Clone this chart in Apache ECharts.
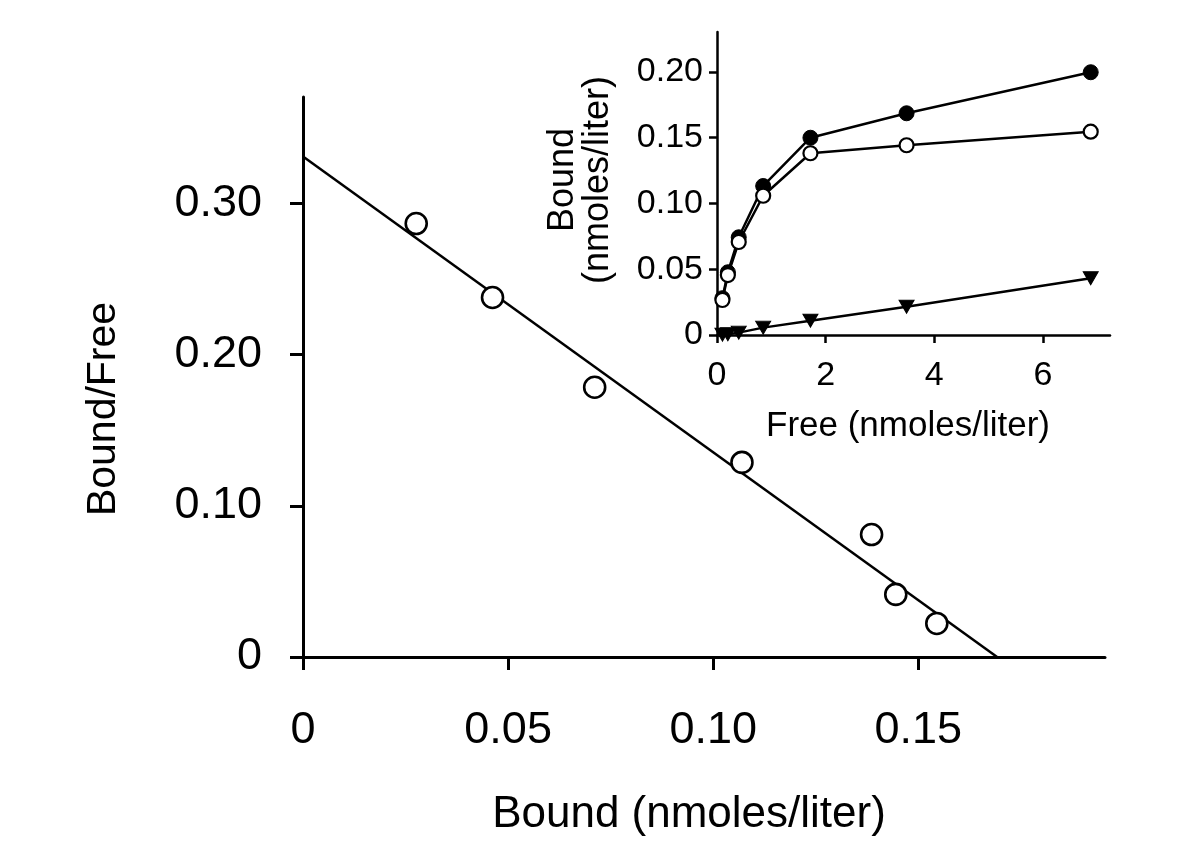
<!DOCTYPE html>
<html>
<head>
<meta charset="utf-8">
<script src="https://cdn.jsdelivr.net/npm/echarts@6/dist/echarts.min.js"></script>
<style>
html,body{margin:0;padding:0;background:#fff;}
#chart{width:1200px;height:852px;}
</style>
</head>
<body>
<div id="chart"></div>
<script>
// ---- Main Scatchard plot data ----
const mainBound = [0.0276, 0.0462, 0.0711, 0.107, 0.1386, 0.1445, 0.1545];
const mainBoundFree = [0.2867, 0.2378, 0.1784, 0.1287, 0.081, 0.0414, 0.0222];
const fitX = [0, 0.1692];
const fitY = [0.331, 0];
const mainXTicks = [0, 0.05, 0.10, 0.15];
const mainYTicks = [0, 0.10, 0.20, 0.30];

// ---- Inset saturation curves ----
const freeConc = [0.1, 0.2, 0.4, 0.85, 1.72, 3.49, 6.88];
const boundFilled = [0.028, 0.0477, 0.0743, 0.1133, 0.150, 0.1686, 0.1998];
const boundOpen = [0.0266, 0.0456, 0.0707, 0.1059, 0.1382, 0.1443, 0.1546];
const boundTriangle = [0.0003, 0.0006, 0.0018, 0.0056, 0.0109, 0.0215, 0.0431];
const insetXTicks = [0, 2, 4, 6];
const insetYTicks = [0, 0.05, 0.10, 0.15, 0.20];

const FONT = "'Liberation Sans', Arial, Helvetica, sans-serif";
const fmt = v => (v === 0 ? '0' : v.toFixed(2));
const zip = (a, b) => a.map((v, i) => [v, b[i]]);

const chart = echarts.init(document.getElementById('chart'), null, {renderer: 'canvas'});

const axisCommon = (lw) => ({
  axisLine: {show: true, onZero: false, lineStyle: {color: '#000', width: lw}},
  splitLine: {show: false}
});

const option = {
  backgroundColor: '#fff',
  animation: false,
  grid: [
    {left: 303, top: 97, right: 95, bottom: 195, containLabel: false},
    {left: 717, top: 32, right: 90, bottom: 517, containLabel: false}
  ],
  xAxis: [
    Object.assign({
      type: 'value', gridIndex: 0, min: 0, max: 0.1955,
      axisTick: {show: true, length: 13, inside: false, customValues: mainXTicks, lineStyle: {color: '#000', width: 3}},
      axisLabel: {show: true, customValues: mainXTicks, formatter: fmt, margin: 51,
        color: '#000', fontSize: 45, fontFamily: FONT}
    }, axisCommon(3)),
    Object.assign({
      type: 'value', gridIndex: 1, min: 0, max: 7.235,
      axisTick: {show: true, length: 8, customValues: insetXTicks, lineStyle: {color: '#000', width: 2.5}},
      axisLabel: {show: true, customValues: insetXTicks, formatter: v => String(v), margin: 24,
        color: '#000', fontSize: 34, fontFamily: FONT}
    }, axisCommon(2.5))
  ],
  yAxis: [
    Object.assign({
      type: 'value', gridIndex: 0, min: 0, max: 0.3704,
      axisTick: {show: true, length: 13, customValues: mainYTicks, lineStyle: {color: '#000', width: 3}},
      axisLabel: {show: true, customValues: mainYTicks, formatter: fmt, margin: 41,
        color: '#000', fontSize: 45, fontFamily: FONT}
    }, axisCommon(3)),
    Object.assign({
      type: 'value', gridIndex: 1, min: 0, max: 0.2304,
      axisTick: {show: true, length: 8, customValues: insetYTicks, lineStyle: {color: '#000', width: 2.5}},
      axisLabel: {show: true, customValues: insetYTicks, formatter: fmt, margin: 14,
        color: '#000', fontSize: 34, fontFamily: FONT}
    }, axisCommon(2.5))
  ],
  series: [
    {
      type: 'line', xAxisIndex: 0, yAxisIndex: 0, data: zip(fitX, fitY),
      showSymbol: false, symbol: 'none', lineStyle: {color: '#000', width: 2.5}, z: 2
    },
    {
      type: 'scatter', xAxisIndex: 0, yAxisIndex: 0, data: zip(mainBound, mainBoundFree),
      symbol: 'circle', symbolSize: 21,
      itemStyle: {color: '#fff', borderColor: '#000', borderWidth: 2.6, opacity: 1}, z: 3
    },
    {
      type: 'line', xAxisIndex: 1, yAxisIndex: 1, data: zip(freeConc, boundTriangle),
      symbol: 'triangle', symbolSize: [15, 13], symbolRotate: 180, showAllSymbol: true,
      itemStyle: {color: '#000', borderColor: '#000'},
      lineStyle: {color: '#000', width: 2.5}, z: 3
    },
    {
      type: 'line', xAxisIndex: 1, yAxisIndex: 1, data: zip(freeConc, boundFilled),
      symbol: 'circle', symbolSize: 15, showAllSymbol: true,
      itemStyle: {color: '#000', borderColor: '#000'},
      lineStyle: {color: '#000', width: 2.5}, z: 3
    },
    {
      type: 'line', xAxisIndex: 1, yAxisIndex: 1, data: zip(freeConc, boundOpen),
      symbol: 'circle', symbolSize: 14, showAllSymbol: true,
      itemStyle: {color: '#fff', borderColor: '#000', borderWidth: 2.2},
      lineStyle: {color: '#000', width: 2.5}, z: 4
    }
  ],
  graphic: [
    {type: 'text', x: 104, y: 409, rotation: Math.PI / 2,
      style: {text: 'Bound/Free', font: '41px ' + FONT, fill: '#000', textAlign: 'center', textVerticalAlign: 'middle'}},
    {type: 'text', x: 689, y: 815,
      style: {text: 'Bound (nmoles/liter)', font: '44px ' + FONT, fill: '#000', textAlign: 'center', textVerticalAlign: 'middle'}},
    {type: 'text', x: 908, y: 426,
      style: {text: 'Free (nmoles/liter)', font: '35px ' + FONT, fill: '#000', textAlign: 'center', textVerticalAlign: 'middle'}},
    {type: 'text', x: 581, y: 180, rotation: Math.PI / 2,
      style: {text: 'Bound\n(nmoles/liter)', font: '36px ' + FONT, lineHeight: 35, fill: '#000', textAlign: 'center', textVerticalAlign: 'middle'}}
  ]
};
chart.setOption(option);
</script>
</body>
</html>
